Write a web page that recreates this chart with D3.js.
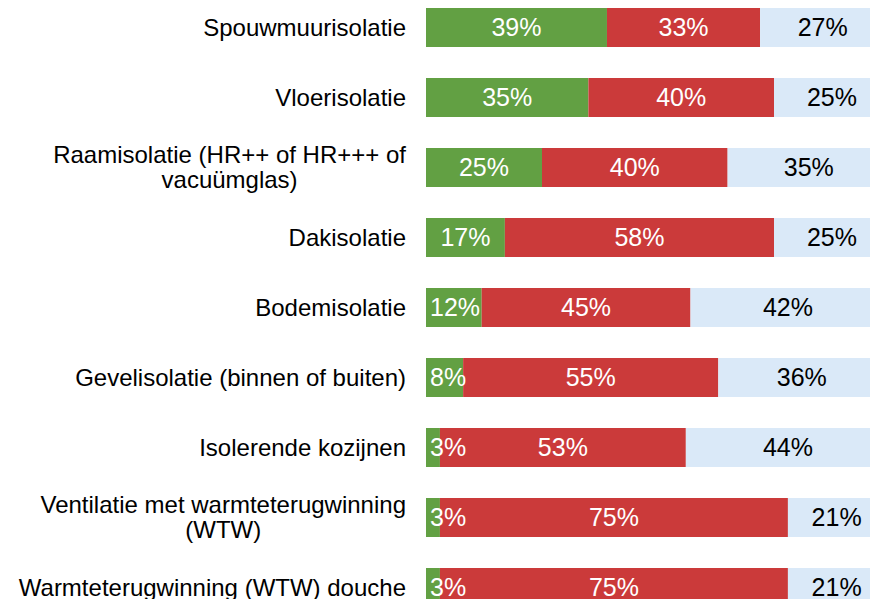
<!DOCTYPE html>
<html>
<head>
<meta charset="utf-8">
<script src="https://cdn.jsdelivr.net/npm/d3@7"></script>
<style>
  body { margin: 0; background: #fff; }
  svg { display: block; font-family: "Liberation Sans", Arial, sans-serif; }
</style>
</head>
<body>
<div id="chart"></div>
<script>
// categories (top to bottom), line breaks as in the original
const categories = [
  "Spouwmuurisolatie",
  "Vloerisolatie",
  "Raamisolatie (HR++ of HR+++ of\nvacuümglas)",
  "Dakisolatie",
  "Bodemisolatie",
  "Gevelisolatie (binnen of buiten)",
  "Isolerende kozijnen",
  "Ventilatie met warmteterugwinning\n(WTW)",
  "Warmteterugwinning (WTW) douche"
];
const greenVals = [39, 35, 25, 17, 12, 8, 3, 3, 3];
const redVals   = [33, 40, 40, 58, 45, 55, 53, 75, 75];
const blueVals  = [27, 25, 35, 25, 42, 36, 44, 21, 21];

const seriesColors = ["#62a043", "#cb3a3a", "#dae9f8"];
const labelColors = ["#fff", "#fff", "#000"];

const width = 870, height = 599;

const svg = d3.select("#chart").append("svg")
    .attr("width", width)
    .attr("height", height);

const rows = categories.map(function(c, i){
    return {cat: c, vals: [greenVals[i], redVals[i], blueVals[i]]};
});

const x = d3.scaleLinear().domain([0, 100]).range([426, 890]);
const y = d3.scaleBand()
    .domain(categories)
    .range([-7.5, 622.5])
    .paddingInner(31/70)
    .paddingOuter(31/140);

// segments per row, with start/end
const segs = [];
rows.forEach(function(d){
    let start = 0;
    d.vals.forEach(function(v, k){
        segs.push({cat: d.cat, k: k, v: v, x0: x(start), x1: x(start + v)});
        start += v;
    });
});

svg.append("g").selectAll("rect")
    .data(segs)
    .enter()
    .append("rect")
    .attr("x", function(d){ return d.x0; })
    .attr("y", function(d){ return y(d.cat); })
    .attr("width", function(d){ return d.x1 - d.x0; })
    .attr("height", y.bandwidth())
    .attr("fill", function(d){ return seriesColors[d.k]; });

svg.append("g").selectAll("text")
    .data(segs)
    .enter()
    .append("text")
    .attr("x", function(d){ return (d.x0 + d.x1) / 2; })
    .attr("y", function(d){ return y(d.cat) + y.bandwidth() / 2; })
    .attr("dy", "0.35em")
    .attr("text-anchor", "middle")
    .attr("fill", function(d){ return labelColors[d.k]; })
    .style("font-size", "25px")
    .text(function(d){ return d.v + "%"; })
    .each(function(d){
        // small segments: keep the label inside the plot area
        const w = this.getComputedTextLength();
        if ((d.x0 + d.x1) / 2 - w / 2 < x(0) + 4) {
            d3.select(this).attr("x", x(0) + 4 + w / 2);
        }
    });

// category labels, right aligned block, lines centered
const labelRight = 406;
const lineH = 25;
rows.forEach(function(d){
    const lines = d.cat.split("\n");
    const cy = y(d.cat) + y.bandwidth() / 2;
    const t = svg.append("text")
        .attr("text-anchor", "middle")
        .attr("fill", "#000")
        .style("font-size", "24px");
    const spans = lines.map(function(l, i){
        return t.append("tspan")
            .attr("y", cy + (i - (lines.length - 1) / 2) * lineH)
            .attr("dy", "0.35em")
            .text(l);
    });
    const maxW = d3.max(spans, function(s){ return s.node().getComputedTextLength(); });
    spans.forEach(function(s){ s.attr("x", labelRight - maxW / 2); });
});
</script>
</body>
</html>
